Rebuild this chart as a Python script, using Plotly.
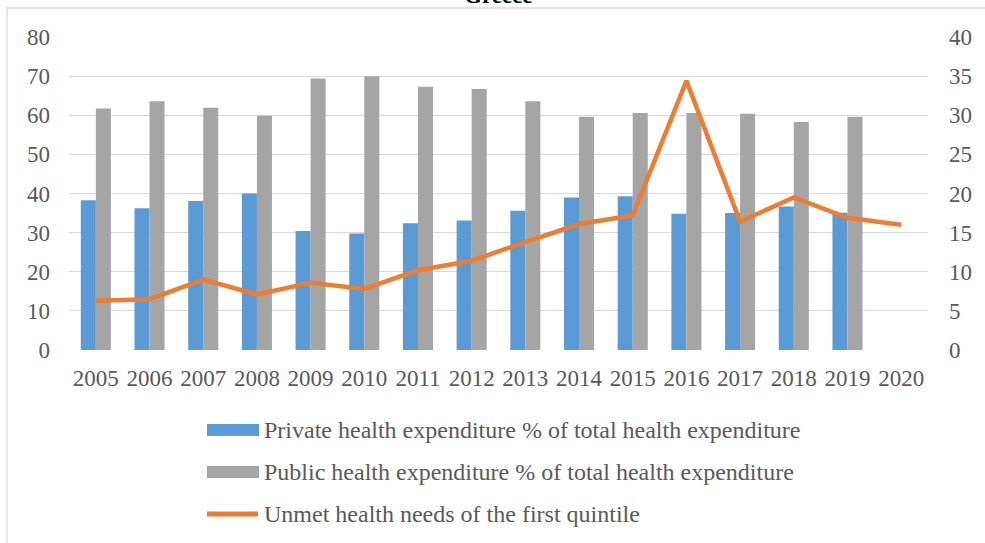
import plotly.graph_objects as go

years = [str(y) for y in range(2005, 2021)]
private_exp = [38.3, 36.2, 38.1, 40.0, 30.4, 29.8, 32.4, 33.1, 35.6, 39.0, 39.3, 34.8, 35.0, 36.7, 35.1, None]
public_exp = [61.7, 63.6, 61.9, 59.9, 69.4, 70.0, 67.3, 66.7, 63.6, 59.6, 60.6, 60.6, 60.4, 58.3, 59.6, None]
unmet_q1 = [6.3, 6.5, 9.0, 7.1, 8.6, 7.8, 10.2, 11.4, 13.8, 16.1, 17.2, 34.4, 16.4, 19.5, 16.9, 16.0]

names = [
    "Private health expenditure % of total health expenditure",
    "Public health expenditure % of total health expenditure",
    "Unmet health needs of the first quintile",
]
colors = ["#5B9BD5", "#A5A5A5", "#ED7D31"]
FONT = "Liberation Serif"
TXT = "#595959"

W, H = 985, 543
L, R, T, B = 69, 57, 37, 193
PW = W - L - R
PH = H - T - B


def px(x):
    return (x - L) / PW


def py(y):
    return (H - B - y) / PH


fig = go.Figure()
fig.add_trace(go.Bar(x=years, y=private_exp, name=names[0], marker_color=colors[0],
                     marker_line_width=0, showlegend=False))
fig.add_trace(go.Bar(x=years, y=public_exp, name=names[1], marker_color=colors[1],
                     marker_line_width=0, showlegend=False))
fig.add_trace(go.Scatter(x=years, y=unmet_q1, name=names[2], mode="lines",
                         line=dict(color=colors[2], width=4.5), yaxis="y2", showlegend=False))

shapes = [
    dict(type="rect", xref="paper", yref="paper", x0=px(7), x1=px(987), y0=py(8), y1=py(560),
         line=dict(color="#D9D9D9", width=1.3), fillcolor="rgba(0,0,0,0)", layer="below"),
]
annotations = [
    dict(text="<b>Greece</b>", xref="paper", yref="paper", x=0.5, y=py(-4), xanchor="center", yanchor="middle",
         showarrow=False, font=dict(family=FONT, size=23, color="#000000"), ),
]
rows = [430, 472, 514]
for i, (nm, c, ry) in enumerate(zip(names, colors, rows)):
    if i < 2:
        shapes.append(dict(type="rect", xref="paper", yref="paper", x0=px(207), x1=px(259),
                           y0=py(ry + 6), y1=py(ry - 6), fillcolor=c, line=dict(width=0)))
    else:
        shapes.append(dict(type="line", xref="paper", yref="paper", x0=px(207), x1=px(258),
                           y0=py(ry), y1=py(ry), line=dict(color=c, width=5)))
    annotations.append(dict(text=nm, xref="paper", yref="paper", x=px(262), y=py(ry),
                            xanchor="left", yanchor="middle", showarrow=False,
                            font=dict(family=FONT, size=24, color=TXT)))

fig.update_layout(
    width=W, height=H,
    margin=dict(l=L, r=R, t=T, b=B, pad=0),
    paper_bgcolor="white", plot_bgcolor="white",
    barmode="group", bargap=0.44, bargroupgap=0,
    font=dict(family=FONT, size=23, color=TXT),
    xaxis=dict(type="category", showgrid=False, showline=False, zeroline=False,
               tickfont=dict(family=FONT, size=23, color=TXT), ticks="", ticklabelstandoff=12),
    yaxis=dict(range=[0, 80], dtick=10, showgrid=True, gridcolor="#D9D9D9", gridwidth=1.3,
               zeroline=False, showline=False, ticks="",
               tickfont=dict(family=FONT, size=23, color=TXT), ticklabelstandoff=18),
    yaxis2=dict(range=[0, 40], dtick=5, overlaying="y", side="right", showgrid=False,
                zeroline=False, showline=False, ticks="",
                tickfont=dict(family=FONT, size=23, color=TXT), ticklabelstandoff=20),
    shapes=shapes,
    annotations=annotations,
    showlegend=False,
)

fig.write_html("out.html", config={"displayModeBar": False},
               post_script="document.body.style.margin='0';document.body.style.overflow='hidden';")
